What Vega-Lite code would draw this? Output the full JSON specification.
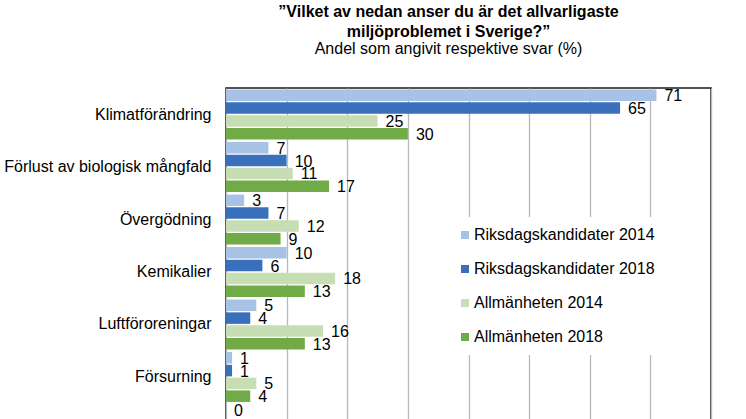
{
  "$schema": "https://vega.github.io/schema/vega-lite/v6.json",
  "width": 485,
  "height": 368,
  "autosize": {"type": "none"},
  "padding": {"left": 226, "top": 88, "right": 35, "bottom": -37},
  "background": "white",
  "title": {
    "text": ["”Vilket av nedan anser du är det allvarligaste", "miljöproblemet i Sverige?”"],
    "subtitle": "Andel som angivit respektive svar (%)",
    "anchor": "middle",
    "dx": -20,
    "font": "Liberation Sans",
    "fontSize": 16,
    "fontWeight": "bold",
    "color": "#000",
    "lineHeight": 20,
    "subtitleFont": "Liberation Sans",
    "subtitleFontSize": 16,
    "subtitleColor": "#000",
    "subtitlePadding": 1,
    "offset": 31
  },
  "data": {
    "values": [
      {"category": "Klimatförändring", "series": "Riksdagskandidater 2014", "value": 71},
      {"category": "Klimatförändring", "series": "Riksdagskandidater 2018", "value": 65},
      {"category": "Klimatförändring", "series": "Allmänheten 2014", "value": 25},
      {"category": "Klimatförändring", "series": "Allmänheten 2018", "value": 30},
      {"category": "Förlust av biologisk mångfald", "series": "Riksdagskandidater 2014", "value": 7},
      {"category": "Förlust av biologisk mångfald", "series": "Riksdagskandidater 2018", "value": 10},
      {"category": "Förlust av biologisk mångfald", "series": "Allmänheten 2014", "value": 11},
      {"category": "Förlust av biologisk mångfald", "series": "Allmänheten 2018", "value": 17},
      {"category": "Övergödning", "series": "Riksdagskandidater 2014", "value": 3},
      {"category": "Övergödning", "series": "Riksdagskandidater 2018", "value": 7},
      {"category": "Övergödning", "series": "Allmänheten 2014", "value": 12},
      {"category": "Övergödning", "series": "Allmänheten 2018", "value": 9},
      {"category": "Kemikalier", "series": "Riksdagskandidater 2014", "value": 10},
      {"category": "Kemikalier", "series": "Riksdagskandidater 2018", "value": 6},
      {"category": "Kemikalier", "series": "Allmänheten 2014", "value": 18},
      {"category": "Kemikalier", "series": "Allmänheten 2018", "value": 13},
      {"category": "Luftföroreningar", "series": "Riksdagskandidater 2014", "value": 5},
      {"category": "Luftföroreningar", "series": "Riksdagskandidater 2018", "value": 4},
      {"category": "Luftföroreningar", "series": "Allmänheten 2014", "value": 16},
      {"category": "Luftföroreningar", "series": "Allmänheten 2018", "value": 13},
      {"category": "Försurning", "series": "Riksdagskandidater 2014", "value": 1},
      {"category": "Försurning", "series": "Riksdagskandidater 2018", "value": 1},
      {"category": "Försurning", "series": "Allmänheten 2014", "value": 5},
      {"category": "Försurning", "series": "Allmänheten 2018", "value": 4},
      {"category": "Annat", "series": "Riksdagskandidater 2014", "value": 0}
    ]
  },
  "encoding": {
    "y": {
      "field": "category",
      "type": "nominal",
      "sort": null,
      "scale": {"paddingInner": 0.05, "paddingOuter": 0.03},
      "axis": {
        "title": null,
        "ticks": false,
        "domain": false,
        "labelFont": "Liberation Sans",
        "labelFontSize": 16,
        "labelColor": "#000",
        "labelPadding": 15,
        "labelLimit": 300
      }
    },
    "yOffset": {
      "field": "series",
      "type": "nominal",
      "sort": ["Riksdagskandidater 2014", "Riksdagskandidater 2018", "Allmänheten 2014", "Allmänheten 2018"],
      "scale": {"paddingInner": 0.1}
    },
    "x": {
      "field": "value",
      "type": "quantitative",
      "scale": {"domain": [0, 80], "nice": false},
      "axis": {
        "title": null,
        "values": [0, 10, 20, 30, 40, 50, 60, 70, 80],
        "labels": false,
        "ticks": false,
        "domain": false,
        "grid": true,
        "gridColor": "#b8b8b8",
        "gridWidth": 1.3
      }
    }
  },
  "layer": [
    {
      "mark": {"type": "bar"},
      "encoding": {
        "color": {
          "field": "series",
          "type": "nominal",
          "sort": ["Riksdagskandidater 2014", "Riksdagskandidater 2018", "Allmänheten 2014", "Allmänheten 2018"],
          "scale": {
            "domain": ["Riksdagskandidater 2014", "Riksdagskandidater 2018", "Allmänheten 2014", "Allmänheten 2018"],
            "range": ["#a8c2e6", "#3a6fbc", "#c7deb5", "#71ab48"]
          },
          "legend": {
            "orient": "none",
            "legendX": 221,
            "legendY": 129,
            "title": null,
            "fillColor": "white",
            "padding": 10,
            "rowPadding": 18,
            "labelFont": "Liberation Sans",
            "labelFontSize": 16,
            "labelColor": "#000",
            "labelOffset": 1,
            "labelLimit": 0,
            "symbolType": "square",
            "symbolSize": 64,
            "symbolStrokeWidth": 0,
            "symbolOpacity": 1
          }
        }
      }
    },
    {
      "mark": {
        "type": "text",
        "align": "left",
        "baseline": "middle",
        "dx": 8,
        "dy": 1,
        "font": "Liberation Sans",
        "fontSize": 16,
        "color": "#000"
      },
      "encoding": {
        "text": {"field": "value", "type": "quantitative"}
      }
    }
  ],
  "config": {
    "view": {"stroke": "#1a1a1a", "strokeWidth": 1.5}
  }
}
